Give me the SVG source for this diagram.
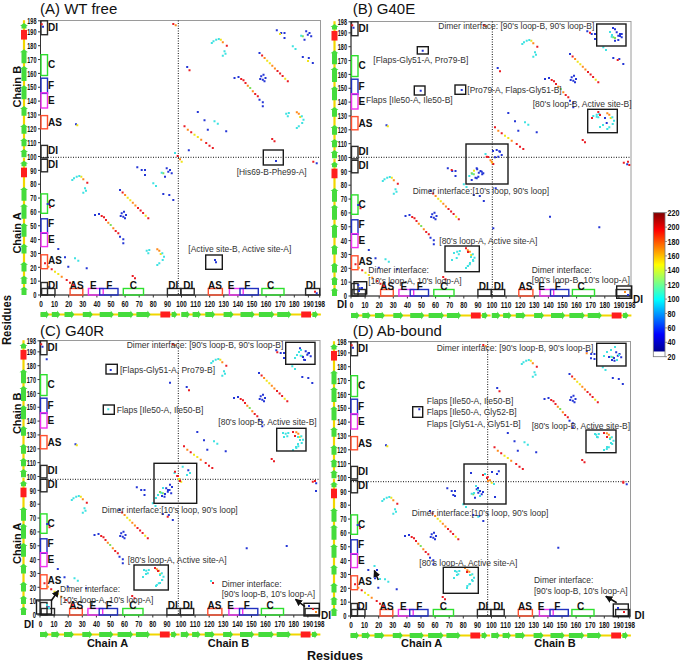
<svg xmlns="http://www.w3.org/2000/svg" xmlns:xlink="http://www.w3.org/1999/xlink" width="685" height="661" viewBox="0 0 685 661">
<style>
text{font-family:"Liberation Sans",Arial,sans-serif;fill:#111}
.t{font-size:15px}
.ax{font-size:11px;font-weight:bold}
.rs{font-size:13px;font-weight:bold}
.tk{font-size:9px;font-weight:bold;fill:#222}
.lb{font-size:10px;font-weight:bold}
.an{font-size:9.5px;fill:#333}
.cb{font-size:8.5px;font-weight:bold;fill:#333}
.fr{fill:none;stroke:#9a9a9a;stroke-width:1}
.axl{stroke:#333;stroke-width:1;fill:none}
.dl{stroke:#111;stroke-width:1;stroke-dasharray:1 1.5;fill:none}
.hb{fill:none;stroke:#1a1a1a;stroke-width:1.4}
.k{fill:none;stroke-width:1.4}
.kDI{stroke:#2b2b2b}.kC{stroke:#2ee02e}.kF{stroke:#2030c0}.kE{stroke:#f030f0}.kAS{stroke:#ff5030}
.p{fill:none;stroke-linecap:square;stroke-width:2}
.r{stroke:#ea1d24}.o{stroke:#ff8a1c}.y{stroke:#f0e41a}.g{stroke:#7ee05a}.c{stroke:#3fe2e2}.b{stroke:#2436d6}
.arr{stroke:#111;stroke-width:1.6;fill:none;marker-end:url(#ah)}
</style>
<defs>
<marker id="ah" viewBox="0 0 10 10" refX="9" refY="5" markerWidth="4.5" markerHeight="4.5" orient="auto"><path d="M0 0L10 5L0 10z" fill="#111"/></marker>
<linearGradient id="jet" x1="0" y1="0" x2="0" y2="1">
<stop offset="0" stop-color="#800000"/><stop offset="0.125" stop-color="#ff0000"/><stop offset="0.25" stop-color="#ff8000"/><stop offset="0.375" stop-color="#ffff00"/><stop offset="0.5" stop-color="#80ff80"/><stop offset="0.625" stop-color="#00ffff"/><stop offset="0.75" stop-color="#0080ff"/><stop offset="0.875" stop-color="#0000ff"/><stop offset="1" stop-color="#000090"/>
</linearGradient>
<g id="ss">
<path d="M0 0H139.6" stroke="#f2d600" stroke-width="2.2"/>
<path fill="#45dc3c" d="M0 -2.5H5.5V-4L8.5 0L5.5 4V2.5H0Z M11.3 -2.5H16.7V-4L19.7 0L16.7 4V2.5H11.3Z M24 -2.5H30.8V-4L33.8 0L30.8 4V2.5H24Z M42.3 -2.5H49.2V-4L52.2 0L49.2 4V2.5H42.3Z M59.2 -2.5H70.3V-4L73.3 0L70.3 4V2.5H59.2Z M77.6 -2.5H90V-4L93 0L90 4V2.5H77.6Z M95.9 -2.5H107V-4L110 0L107 4V2.5H95.9Z M131.1 -2.5H133.8V-4L136.8 0L133.8 4V2.5H131.1Z"/>
<rect x="119.9" y="-3" width="9.8" height="6" fill="#ff1e1e"/>
</g>
<g id="axes">
<rect class="fr" x="0" y="-274.5" width="280" height="274.5"/>
<path class="axl" d="M0 -274.5V0H280"/>
<path class="axl" d="M-2.5 0H0M-2.5 -13.85H0M-2.5 -27.7H0M-2.5 -41.55H0M-2.5 -55.4H0M-2.5 -69.25H0M-2.5 -83.1H0M-2.5 -96.95H0M-2.5 -110.8H0M-2.5 -124.65H0M-2.5 -138.5H0M-2.5 -152.35H0M-2.5 -166.2H0M-2.5 -180.05H0M-2.5 -193.9H0M-2.5 -207.75H0M-2.5 -221.6H0M-2.5 -235.45H0M-2.5 -249.3H0M-2.5 -263.15H0M-2.5 -274.2H0 M0 0V2.5M14.1 0V2.5M28.2 0V2.5M42.3 0V2.5M56.4 0V2.5M70.5 0V2.5M84.6 0V2.5M98.7 0V2.5M112.8 0V2.5M126.9 0V2.5M141 0V2.5M155.1 0V2.5M169.2 0V2.5M183.3 0V2.5M197.4 0V2.5M211.5 0V2.5M225.6 0V2.5M239.7 0V2.5M253.8 0V2.5M267.9 0V2.5M279.2 0V2.5"/>
<g class="tk" text-anchor="end">
<text x="-4" y="3.2" textLength="3.2" lengthAdjust="spacingAndGlyphs">0</text>
<text x="-4" y="-10.7" textLength="6.2" lengthAdjust="spacingAndGlyphs">10</text>
<text x="-4" y="-24.5" textLength="6.2" lengthAdjust="spacingAndGlyphs">20</text>
<text x="-4" y="-38.4" textLength="6.2" lengthAdjust="spacingAndGlyphs">30</text>
<text x="-4" y="-52.2" textLength="6.2" lengthAdjust="spacingAndGlyphs">40</text>
<text x="-4" y="-66.1" textLength="6.2" lengthAdjust="spacingAndGlyphs">50</text>
<text x="-4" y="-79.9" textLength="6.2" lengthAdjust="spacingAndGlyphs">60</text>
<text x="-4" y="-93.8" textLength="6.2" lengthAdjust="spacingAndGlyphs">70</text>
<text x="-4" y="-107.6" textLength="6.2" lengthAdjust="spacingAndGlyphs">80</text>
<text x="-4" y="-121.5" textLength="6.2" lengthAdjust="spacingAndGlyphs">90</text>
<text x="-4" y="-135.3" textLength="9.2" lengthAdjust="spacingAndGlyphs">100</text>
<text x="-4" y="-149.2" textLength="9.2" lengthAdjust="spacingAndGlyphs">110</text>
<text x="-4" y="-163" textLength="9.2" lengthAdjust="spacingAndGlyphs">120</text>
<text x="-4" y="-176.9" textLength="9.2" lengthAdjust="spacingAndGlyphs">130</text>
<text x="-4" y="-190.7" textLength="9.2" lengthAdjust="spacingAndGlyphs">140</text>
<text x="-4" y="-204.6" textLength="9.2" lengthAdjust="spacingAndGlyphs">150</text>
<text x="-4" y="-218.4" textLength="9.2" lengthAdjust="spacingAndGlyphs">160</text>
<text x="-4" y="-232.3" textLength="9.2" lengthAdjust="spacingAndGlyphs">170</text>
<text x="-4" y="-246.1" textLength="9.2" lengthAdjust="spacingAndGlyphs">180</text>
<text x="-4" y="-260" textLength="9.2" lengthAdjust="spacingAndGlyphs">190</text>
<text x="-4" y="-271" textLength="9.2" lengthAdjust="spacingAndGlyphs">198</text>
</g>
<g class="tk" text-anchor="middle">
<text x="0.5" y="11.5" textLength="3.6" lengthAdjust="spacingAndGlyphs">0</text>
<text x="14.1" y="11.5" textLength="7" lengthAdjust="spacingAndGlyphs">10</text>
<text x="28.2" y="11.5" textLength="7" lengthAdjust="spacingAndGlyphs">20</text>
<text x="42.3" y="11.5" textLength="7" lengthAdjust="spacingAndGlyphs">30</text>
<text x="56.4" y="11.5" textLength="7" lengthAdjust="spacingAndGlyphs">40</text>
<text x="70.5" y="11.5" textLength="7" lengthAdjust="spacingAndGlyphs">50</text>
<text x="84.6" y="11.5" textLength="7" lengthAdjust="spacingAndGlyphs">60</text>
<text x="98.7" y="11.5" textLength="7" lengthAdjust="spacingAndGlyphs">70</text>
<text x="112.8" y="11.5" textLength="7" lengthAdjust="spacingAndGlyphs">80</text>
<text x="126.9" y="11.5" textLength="7" lengthAdjust="spacingAndGlyphs">90</text>
<text x="141" y="11.5" textLength="10.5" lengthAdjust="spacingAndGlyphs">100</text>
<text x="155.1" y="11.5" textLength="10.5" lengthAdjust="spacingAndGlyphs">110</text>
<text x="169.2" y="11.5" textLength="10.5" lengthAdjust="spacingAndGlyphs">120</text>
<text x="183.3" y="11.5" textLength="10.5" lengthAdjust="spacingAndGlyphs">130</text>
<text x="197.4" y="11.5" textLength="10.5" lengthAdjust="spacingAndGlyphs">140</text>
<text x="211.5" y="11.5" textLength="10.5" lengthAdjust="spacingAndGlyphs">150</text>
<text x="225.6" y="11.5" textLength="10.5" lengthAdjust="spacingAndGlyphs">160</text>
<text x="239.7" y="11.5" textLength="10.5" lengthAdjust="spacingAndGlyphs">170</text>
<text x="253.8" y="11.5" textLength="10.5" lengthAdjust="spacingAndGlyphs">180</text>
<text x="267.9" y="11.5" textLength="10.5" lengthAdjust="spacingAndGlyphs">190</text>
<text x="279.2" y="11.5" textLength="10.5" lengthAdjust="spacingAndGlyphs">198</text>
</g>
<g class="k">
<rect class="kDI" x="0.5" y="-274.2" width="6.5" height="13.9"/>
<rect class="kC" x="0.5" y="-240.3" width="6.5" height="20.8"/>
<rect class="kF" x="0.5" y="-216.8" width="6.5" height="15.2"/>
<rect class="kE" x="0.5" y="-202.2" width="6.5" height="15.2"/>
<rect class="kAS" x="0.5" y="-179.4" width="6.5" height="13.2"/>
<rect class="kDI" x="0.5" y="-149.6" width="6.5" height="12.5"/>
<rect class="kDI" x="0.5" y="-135.7" width="6.5" height="12.5"/>
<rect class="kC" x="0.5" y="-101.1" width="6.5" height="19.4"/>
<rect class="kF" x="0.5" y="-76.2" width="6.5" height="14.5"/>
<rect class="kE" x="0.5" y="-62.3" width="6.5" height="13.9"/>
<rect class="kAS" x="0.5" y="-40.2" width="6.5" height="13.9"/>
<rect class="kDI" x="0.5" y="-12.5" width="6.5" height="12.5"/>
<rect class="kDI" x="1.1" y="-6.5" width="13.4" height="6.5"/>
<rect class="kAS" x="29.6" y="-6.5" width="12.7" height="6.5"/>
<rect class="kE" x="47.9" y="-6.5" width="14.8" height="6.5"/>
<rect class="kF" x="59.2" y="-6.5" width="18.3" height="6.5"/>
<rect class="kC" x="82.8" y="-6.5" width="20.2" height="6.5"/>
<rect class="kDI" x="126.9" y="-6.5" width="13.4" height="6.5"/>
<rect class="kDI" x="140.4" y="-6.5" width="13.3" height="6.5"/>
<rect class="kAS" x="167.8" y="-6.5" width="14.1" height="6.5"/>
<rect class="kE" x="188.9" y="-6.5" width="13.8" height="6.5"/>
<rect class="kF" x="199.5" y="-6.5" width="18.3" height="6.5"/>
<rect class="kC" x="221.4" y="-6.5" width="22.1" height="6.5"/>
<rect class="kDI" x="265.1" y="-6.5" width="14.1" height="6.5"/>
</g>
<g class="lb">
<text x="7.5" y="-264.2">DI</text><text x="7.5" y="-227.2">C</text><text x="7.5" y="-205.6">F</text><text x="7.5" y="-190.8">E</text><text x="7.5" y="-169.2">AS</text><text x="7.5" y="-140.8">DI</text><text x="7.5" y="-127.2">DI</text><text x="7.5" y="-88.2">C</text><text x="7.5" y="-67.6">F</text><text x="7.5" y="-52.2">E</text><text x="7.5" y="-30.8">AS</text>
</g>
<g class="lb" text-anchor="middle">
<text x="36.2" y="-6">AS</text><text x="52.8" y="-6">E</text><text x="68.8" y="-6">F</text><text x="92.8" y="-6">C</text><text x="132.8" y="-6">DI</text><text x="147.8" y="-6">DI</text><text x="174.5" y="-6">AS</text><text x="190.5" y="-6">E</text><text x="206.8" y="-6">F</text><text x="230.2" y="-6">C</text>
</g>
<use xlink:href="#ss" href="#ss" x="0" y="19.5"/>
<use xlink:href="#ss" href="#ss" x="140.8" y="19.5"/>
<use xlink:href="#ss" href="#ss" transform="translate(-16.5,0) rotate(-90) scale(0.982,1)"/>
<use xlink:href="#ss" href="#ss" transform="translate(-16.5,-137.7) rotate(-90) scale(0.982,1)"/>
</g>
<g id="intra">
<path class="p r" d="M46.8 -112.3h.01M82.1 -102.4h.01M97.5 -87h.01M100.1 -84.4h.01M102.6 -81.9h.01M107.8 -76.7h.01M61.2 -79h.01M63.5 -77.7h.01M65.5 -75h.01M75.2 -64h.01M77.8 -61.7h.01M9.5 -87.7h.01M4.5 -31.7h.01M11.2 -25.7h.01M26.2 -15h.01M29.5 -12.3h.01M32.8 -10h.01M92.2 -19h.01M94.5 -16.7h.01"/>
<path class="p o" d="M42.8 -115.7h.01M84.6 -99.9h.01M92.3 -92.2h.01M94.9 -89.6h.01M67.8 -72.3h.01M72.8 -66.7h.01M116.8 -45.7h.01M118.8 -44.3h.01M7.8 -28.3h.01M21.2 -18.3h.01"/>
<path class="p y" d="M40.8 -118.3h.01M87.2 -97.3h.01M89.8 -94.7h.01M105.2 -79.3h.01M120.2 -41h.01M14.5 -23.3h.01M17.8 -21h.01"/>
<path class="p g" d="M122.8 -121.7h.01M70.2 -70h.01"/>
<path class="p c" d="M31.8 -115h.01M33.5 -116.7h.01M36.2 -118.3h.01M38.8 -119h.01M44.5 -106.7h.01M45.5 -104.3h.01M42.8 -102.3h.01M121.2 -122.3h.01M112.8 -111.7h.01M115.5 -109h.01M106.2 -44.3h.01M108.8 -45h.01M107.8 -41.7h.01M121.8 -41.7h.01M123.5 -38.3h.01M122.2 -35h.01M118.8 -31.7h.01M116.8 -30h.01M34.5 -36.7h.01M37.8 -34.3h.01"/>
<path class="p b" d="M96.8 -127.7h.01M101.2 -125h.01M104.5 -125h.01M104.5 -120h.01M126.2 -126.7h.01M127.8 -123.3h.01M131.2 -121.7h.01M129.5 -125h.01M124.5 -118.3h.01M122.8 -101h.01M128.8 -100h.01M132.8 -95h.01M7.2 -91h.01M79.5 -105h.01M81.2 -81.7h.01M83.5 -83.3h.01M85.5 -80h.01M82.8 -78.3h.01M80.2 -79h.01M84.5 -76.7h.01M54.5 -80h.01M58.5 -81h.01M79.5 -58.3h.01M82.8 -55.7h.01M82.8 -51.7h.01M17.8 -46h.01M24.5 -37.7h.01M27.8 -28.3h.01M46.2 -26.7h.01M8.8 -7.7h.01"/>
</g>
<g id="inter">
<path class="p b" d="M35.5 -170.7h.01M2.5 -268.3h.01M276.2 -131.7h.01"/>
<path class="p y" d="M36.8 -169.7h.01M141.2 -133.3h.01"/>
<path class="p r" d="M1.2 -270.7h.01M132.8 -271h.01M137.2 -139h.01M272.8 -133.3h.01"/>
<path class="p o" d="M135.2 -269.7h.01M139.5 -135.7h.01"/>
<path class="p c" d="M134.5 -142h.01"/>
</g>
</defs>
<rect width="685" height="661" fill="#fff"/>

<g id="titles">
<text class="t" x="40" y="13.5">(A) WT free</text>
<text class="t" x="352.7" y="14">(B) G40E</text>
<text class="t" x="40" y="336">(C) G40R</text>
<text class="t" x="352.7" y="336">(D) Ab-bound</text>
<text class="ax" text-anchor="middle" transform="translate(20.7,86.7) rotate(-90)">Chain B</text>
<text class="ax" text-anchor="middle" transform="translate(20.7,233) rotate(-90)">Chain A</text>
<text class="ax" text-anchor="middle" transform="translate(20.7,413.3) rotate(-90)">Chain B</text>
<text class="ax" text-anchor="middle" transform="translate(20.7,543.3) rotate(-90)">Chain A</text>
<text class="rs" text-anchor="middle" textLength="50" lengthAdjust="spacingAndGlyphs" transform="translate(10.5,320) rotate(-90)">Residues</text>
<text class="ax" text-anchor="middle" x="107.5" y="647">Chain A</text>
<text class="ax" text-anchor="middle" x="228.5" y="647">Chain B</text>
<text class="ax" text-anchor="middle" x="421.7" y="647">Chain A</text>
<text class="ax" text-anchor="middle" x="555" y="647">Chain B</text>
<text class="rs" text-anchor="middle" x="335" y="659.5" textLength="56" lengthAdjust="spacingAndGlyphs">Residues</text>
</g>

<g id="panelA" transform="translate(40.5,295)">
<use xlink:href="#axes" href="#axes"/>
<path class="dl" d="M137.8 -274.5V0M0 -137.7H280"/>
<use xlink:href="#intra" href="#intra"/>
<use xlink:href="#intra" href="#intra" transform="translate(139.5,-137)"/>
<use xlink:href="#inter" href="#inter"/>
<path class="p b" d="M235.5 -134h.01M174.5 -35h.01M175.5 -32.7h.01M276.2 -1.7h.01"/>
<path class="p r" d="M274.5 -3.3h.01"/>
<path class="p y" d="M239.5 -261h.01M267.5 -234h.01"/>
<rect class="hb" x="222.8" y="-145" width="20" height="15"/>
<rect class="hb" x="165.2" y="-40" width="16.6" height="14.3"/>
<text class="an" x="196.2" y="-120" textLength="70" lengthAdjust="spacingAndGlyphs">[His69-B-Phe99-A]</text>
<text class="an" x="147.8" y="-43.4" textLength="103" lengthAdjust="spacingAndGlyphs">[Active site-B, Active site-A]</text>
<text class="lb" x="7.5" y="-6.5">DI</text>
<text class="lb" x="270.2" y="-6" text-anchor="middle">DI</text>
</g>

<g id="panelB" transform="translate(351,296)">
<use xlink:href="#axes" href="#axes"/>
<path class="dl" d="M141.3 -274.5V0M0 -138.7H280"/>
<use xlink:href="#intra" href="#intra"/>
<use xlink:href="#intra" href="#intra" transform="translate(139.5,-137)"/>
<use xlink:href="#inter" href="#inter"/>
<path class="p b" d="M71.7 -245.3h.01M69.7 -205.3h.01M110.7 -206h.01M142 -145h.01M145.7 -146h.01M149 -144.3h.01M150.7 -141h.01M147.3 -139.3h.01M144 -138.7h.01M125.7 -127.7h.01M130.7 -124.3h.01M132.3 -122.7h.01M127.3 -119.3h.01M125.7 -117.7h.01M120.7 -116h.01M262 -268h.01M264 -266.7h.01M269 -260h.01M270.7 -262h.01M267.3 -256h.01M254 -178h.01M255.7 -173h.01M7.3 -11h.01M11 -8h.01M8 -5h.01M277 -1h.01M144.7 -107.7h.01M142.3 -67.7h.01M199 -79.3h.01M248.3 -68.7h.01"/>
<path class="p r" d="M135.7 -139.3h.01M142.3 -132h.01M247.3 -184h.01M249 -181h.01M241 -178h.01M115 -47.7h.01M117 -44h.01M277 -134.3h.01M278.3 -131h.01M100.7 -126h.01M266.7 -236h.01M239 -263.3h.01"/>
<path class="p o" d="M140.7 -134.3h.01M274 -4h.01"/>
<path class="p y" d="M123 -125.3h.01"/>
<path class="p g" d="M120.7 -122.7h.01M264 -258h.01"/>
<path class="p c" d="M118.3 -120h.01M259 -264h.01M261 -261h.01M242.3 -180h.01M245.7 -179.3h.01M252 -171h.01M249 -169h.01M103 -43h.01M105.7 -38h.01M101 -36h.01M120 -39h.01M122 -36h.01M119 -33h.01M117 -30h.01M115 -28h.01"/>
<g>
<rect class="hb" x="66.3" y="-249.3" width="11" height="7.3"/>
<rect class="hb" x="63.3" y="-210" width="10.7" height="9"/>
<rect class="hb" x="104" y="-211" width="10.7" height="9.3"/>
<rect class="hb" x="245.7" y="-272" width="29.3" height="22"/>
<rect class="hb" x="236.7" y="-186.7" width="29.6" height="23.4"/>
<rect class="hb" x="115" y="-152" width="42" height="40"/>
<rect class="hb" x="94" y="-50" width="34.3" height="25.7"/>
<rect class="hb" x="3" y="-14.3" width="12.7" height="12.3"/>
<rect class="hb" x="265.7" y="-10" width="15" height="12.3"/>
</g>
<text class="an" x="22.3" y="-233.4" textLength="95" lengthAdjust="spacingAndGlyphs">[Flaps-Gly51-A, Pro79-B]</text>
<text class="an" x="116.3" y="-203.4" textLength="94.4" lengthAdjust="spacingAndGlyphs">[Pro79-A, Flaps-Gly51-B]</text>
<text class="an" x="15" y="-193.4" textLength="86.7" lengthAdjust="spacingAndGlyphs">Flaps [Ile50-A, Ile50-B]</text>
<text class="an" x="87.3" y="-266.7" textLength="156" lengthAdjust="spacingAndGlyphs">Dimer interface: [90's loop-B, 90's loop-B]</text>
<text class="an" x="181.7" y="-188.7" textLength="99" lengthAdjust="spacingAndGlyphs">[80's loop-B, Active site-B]</text>
<text class="an" x="61.7" y="-102" textLength="136.3" lengthAdjust="spacingAndGlyphs">Dimer interface:[10's loop, 90's loop]</text>
<text class="an" x="88.3" y="-52" textLength="98" lengthAdjust="spacingAndGlyphs">[80's loop-A, Active site-A]</text>
<text class="an" x="17.3" y="-22.7" textLength="60.7" lengthAdjust="spacingAndGlyphs">Dimer interface:</text>
<text class="an" x="17.3" y="-12" textLength="93.4" lengthAdjust="spacingAndGlyphs">[10's loop-A, 10's loop-A]</text>
<text class="an" x="180.7" y="-23.4" textLength="60" lengthAdjust="spacingAndGlyphs">Dimer interface:</text>
<text class="an" x="180.7" y="-12.7" textLength="98.3" lengthAdjust="spacingAndGlyphs">[90's loop-B, 10's loop-A]</text>
<text class="lb" x="-14" y="12">DI</text>
<text class="lb" x="282" y="7">DI</text>
</g>

<g id="panelC" transform="translate(40,615)">
<use xlink:href="#axes" href="#axes"/>
<path class="dl" d="M138.3 -274.5V0M0 -135.7H280"/>
<use xlink:href="#intra" href="#intra"/>
<use xlink:href="#intra" href="#intra" transform="translate(139.5,-137)"/>
<use xlink:href="#inter" href="#inter"/>
<path class="p b" d="M70.7 -245h.01M260 -266.7h.01M268.3 -261.7h.01M263 -258h.01M265 -255h.01M130 -130.3h.01M132 -128h.01M128 -125h.01M125 -121h.01M122 -119h.01M269 -9h.01M206.7 -66.7h.01M246.7 -69h.01M276 -124h.01M6.7 -255.7h.01M130 -232.3h.01"/>
<path class="p r" d="M253 -183h.01M255 -179h.01M135 -143.3h.01M138 -139h.01M140 -134h.01M115 -47h.01M118 -44h.01M273 -6h.01M275 -134h.01M173 -32h.01M237.3 -262.7h.01M127.7 -98.3h.01"/>
<path class="p o" d="M276 -3h.01"/>
<path class="p y" d="M139 -136h.01"/>
<path class="p g" d="M120 -123h.01"/>
<path class="p c" d="M68.3 -205.7h.01M257 -260h.01M259 -263h.01M261 -265h.01M255 -257h.01M243 -182h.01M244 -178h.01M258 -178h.01M260 -175h.01M258 -171h.01M256 -168h.01M253 -165h.01M142.7 -148.3h.01M150 -142h.01M147 -140h.01M123 -127h.01M118 -120h.01M116 -117h.01M104 -45h.01M106 -41h.01M103 -38h.01M120 -40h.01M122 -35h.01M120 -32h.01M116 -29h.01M7 -10h.01M9 -7h.01M171 -34h.01"/>
<g>
<rect class="hb" x="245.7" y="-272.7" width="29.3" height="22"/>
<rect class="hb" x="66" y="-250.7" width="11.3" height="9.7"/>
<rect class="hb" x="63.3" y="-210" width="11" height="9.3"/>
<rect class="hb" x="236.7" y="-186.7" width="29.3" height="22.7"/>
<rect class="hb" x="114" y="-151.7" width="42.7" height="40"/>
<rect class="hb" x="94" y="-50" width="34.3" height="25"/>
<rect class="hb" x="-3.5" y="-15" width="15" height="14"/>
<rect class="hb" x="264" y="-11.7" width="15.3" height="12.7"/>
</g>
<text class="an" x="86.7" y="-266.7" textLength="156.6" lengthAdjust="spacingAndGlyphs">Dimer interface: [90's loop-B, 90's loop-B]</text>
<text class="an" x="80" y="-241.7" textLength="95" lengthAdjust="spacingAndGlyphs">[Flaps-Gly51-A, Pro79-B]</text>
<text class="an" x="76.7" y="-202.4" textLength="86.6" lengthAdjust="spacingAndGlyphs">Flaps [Ile50-A, Ile50-B]</text>
<text class="an" x="178.3" y="-190" textLength="98.4" lengthAdjust="spacingAndGlyphs">[80's loop-B, Active site-B]</text>
<text class="an" x="61.7" y="-102.4" textLength="136" lengthAdjust="spacingAndGlyphs">Dimer interface:[10's loop, 90's loop]</text>
<text class="an" x="87.7" y="-52.4" textLength="99" lengthAdjust="spacingAndGlyphs">[80's loop-A, Active site-A]</text>
<text class="an" x="20" y="-23" textLength="60" lengthAdjust="spacingAndGlyphs">Dimer interface:</text>
<text class="an" x="20" y="-12.4" textLength="93.3" lengthAdjust="spacingAndGlyphs">[10's loop-A, 10's loop-A]</text>
<text class="an" x="181.7" y="-28.4" textLength="60" lengthAdjust="spacingAndGlyphs">Dimer interface:</text>
<text class="an" x="181.7" y="-18.4" textLength="93.3" lengthAdjust="spacingAndGlyphs">[90's loop-B, 10's loop-A]</text>
<text class="lb" x="-16" y="12.5">DI</text>
<text class="lb" x="281" y="3.5">DI</text>
</g>

<g id="panelD" transform="translate(350.5,616)">
<use xlink:href="#axes" href="#axes"/>
<path class="dl" d="M137.2 -274.5V0M0 -134.3H280"/>
<use xlink:href="#intra" href="#intra"/>
<use xlink:href="#intra" href="#intra" transform="translate(139.5,-137)"/>
<use xlink:href="#inter" href="#inter"/>
<path class="p b" d="M68.8 -206.7h.01M258.5 -259h.01M261.5 -256h.01M263.5 -258h.01M240.5 -257.7h.01M120.5 -143h.01M141.5 -144h.01M146.5 -142h.01M144.5 -119h.01M127.5 -128h.01M132.5 -124h.01M26.5 -46h.01M267.5 -8h.01M207.8 -68.3h.01M102.8 -121h.01"/>
<path class="p r" d="M253.5 -183h.01M256.5 -179h.01M132.5 -141h.01M136.5 -138h.01M116.5 -44h.01M273.5 -4h.01M272.8 -134.3h.01"/>
<path class="p o" d="M137.5 -135h.01M114.5 -48h.01M236.2 -262.7h.01"/>
<path class="p c" d="M253.5 -260h.01M256.5 -264h.01M260.5 -266h.01M264.5 -269h.01M268.5 -261h.01M266.5 -256h.01M244.5 -182h.01M246.5 -179h.01M259.5 -177h.01M260.5 -173h.01M256.5 -169h.01M253.5 -166h.01M125.5 -130h.01M127.5 -126h.01M123.5 -123h.01M129.5 -120h.01M143.5 -132h.01M104.5 -45h.01M106.5 -41h.01M103.5 -38h.01M119.5 -41h.01M121.5 -36h.01M119.5 -32h.01M116.5 -28h.01M24 -50h.01M29.5 -37h.01M127.8 -99.3h.01"/>
<g>
<rect class="hb" x="246.2" y="-272.7" width="29.3" height="22.7"/>
<rect class="hb" x="62.2" y="-209.3" width="10" height="10.6"/>
<rect class="hb" x="235.5" y="-186" width="30" height="22.7"/>
<rect class="hb" x="113.5" y="-152" width="42" height="40"/>
<rect class="hb" x="92.8" y="-48.7" width="35" height="26"/>
<rect class="hb" x="262.8" y="-12" width="15" height="12.7"/>
</g>
<text class="an" x="86.2" y="-265.4" textLength="156.6" lengthAdjust="spacingAndGlyphs">Dimer interface: [90's loop-B, 90's loop-B]</text>
<text class="an" x="76.2" y="-211.7" textLength="86.6" lengthAdjust="spacingAndGlyphs">Flaps [Ile50-A, Ile50-B]</text>
<text class="an" x="76.2" y="-201" textLength="90" lengthAdjust="spacingAndGlyphs">Flaps [Ile50-A, Gly52-B]</text>
<text class="an" x="76.2" y="-189.4" textLength="94" lengthAdjust="spacingAndGlyphs">Flaps [Gly51-A, Gly51-B]</text>
<text class="an" x="181.2" y="-187.2" textLength="98.3" lengthAdjust="spacingAndGlyphs">[80's loop-B, Active site-B]</text>
<text class="an" x="61.2" y="-100" textLength="136.6" lengthAdjust="spacingAndGlyphs">Dimer interface:[10's loop, 90's loop]</text>
<text class="an" x="68.8" y="-50.4" textLength="98" lengthAdjust="spacingAndGlyphs">[80's loop-A, Active site-A]</text>
<text class="an" x="183.5" y="-32.7" textLength="59.3" lengthAdjust="spacingAndGlyphs">Dimer interface:</text>
<text class="an" x="183.5" y="-22" textLength="93.7" lengthAdjust="spacingAndGlyphs">[90's loop-B, 10's loop-A]</text>
<text class="lb" x="7" y="-6.5">DI</text>
<text class="lb" x="284" y="3">DI</text>
</g>

<g id="connectors">
<path class="arr" d="M51 601L58.5 590.5"/>
<path class="arr" d="M305 606.7L295.5 599.3"/>
<path class="arr" d="M378.3 580L374.3 570.5"/>
<path class="arr" d="M616.7 602.7L605.8 596.3"/>
</g>

<g id="colorbar">
<rect x="653.3" y="212.7" width="11.7" height="139" fill="url(#jet)"/>
<rect x="653.3" y="351.7" width="11.7" height="5" fill="#fff"/>
<rect x="653.3" y="212.7" width="11.7" height="144" fill="none" stroke="#777" stroke-width="0.8"/>
<path d="M665 212.7h2M665 227.1h2M665 241.5h2M665 255.9h2M665 270.3h2M665 284.7h2M665 299.1h2M665 313.5h2M665 327.9h2M665 342.3h2M665 356.7h2" stroke="#777" stroke-width="0.8"/>
<g class="cb">
<text x="667.5" y="215.7" textLength="12" lengthAdjust="spacingAndGlyphs">220</text>
<text x="667.5" y="230.1" textLength="12" lengthAdjust="spacingAndGlyphs">200</text>
<text x="667.5" y="244.5" textLength="12" lengthAdjust="spacingAndGlyphs">180</text>
<text x="667.5" y="258.9" textLength="12" lengthAdjust="spacingAndGlyphs">160</text>
<text x="667.5" y="273.3" textLength="12" lengthAdjust="spacingAndGlyphs">140</text>
<text x="667.5" y="287.7" textLength="12" lengthAdjust="spacingAndGlyphs">120</text>
<text x="667.5" y="302.1" textLength="12" lengthAdjust="spacingAndGlyphs">100</text>
<text x="667.5" y="316.5" textLength="8" lengthAdjust="spacingAndGlyphs">80</text>
<text x="667.5" y="330.9" textLength="8" lengthAdjust="spacingAndGlyphs">60</text>
<text x="667.5" y="345.3" textLength="8" lengthAdjust="spacingAndGlyphs">40</text>
<text x="667.5" y="359.7" textLength="8" lengthAdjust="spacingAndGlyphs">20</text>
</g>
</g>
</svg>
